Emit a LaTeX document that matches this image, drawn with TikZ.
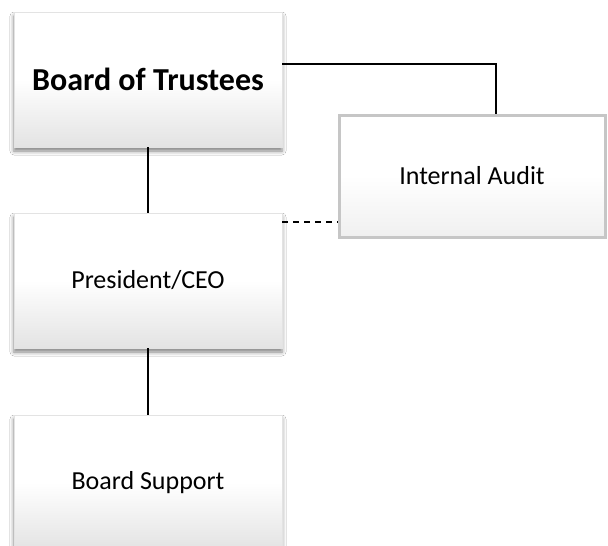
\documentclass[tikz,border=0pt]{standalone}
\usepackage{fontspec}
\setmainfont{Carlito}
\usetikzlibrary{shadows.blur}
\tikzset{
  orgbox/.style={rectangle, draw=gray!22, line width=0.6pt,
    top color=white, bottom color=gray!22, middle color=white,
    minimum width=268pt, minimum height=135pt, inner sep=0pt,
    font=\fontsize{26}{30}\selectfont,
    blur shadow={shadow xshift=0pt, shadow yshift=-4pt, shadow blur radius=4pt, shadow opacity=50}},
  bevelbox/.style={rectangle, draw=gray!45, line width=3pt,
    top color=white, bottom color=gray!12, middle color=white,
    minimum width=266pt, minimum height=122pt, inner sep=0pt,
    font=\fontsize{26}{30}\selectfont},
  link/.style={draw=black, line width=1.8pt},
  dlink/.style={draw=black, line width=1.8pt, dash pattern=on 6pt off 5pt}
}
\begin{document}
\begin{tikzpicture}[x=1pt,y=-1pt]
\useasboundingbox (0,0) rectangle (608,546);
\fill[white] (0,0) rectangle (608,546);
\node[orgbox, font=\fontsize{32}{36}\selectfont\bfseries] (bot) at (148,79.5) {Board of Trustees};
\node[orgbox] (pres) at (148,280.5) {President/CEO};
\node[orgbox] (bs) at (148,482.5) {Board Support};
\node[bevelbox] (ia) at (472,176) {Internal Audit};
\draw[link] (bot.south) -- (pres.north);
\draw[link] (pres.south) -- (bs.north);
\draw[link] ([yshift=15.5pt]bot.east) -| ([xshift=24pt]ia.north);
\coordinate (d1) at ([yshift=-9pt]pres.north east);
\draw[dlink] (d1) -- (d1 -| ia.west);
\end{tikzpicture}
\end{document}
